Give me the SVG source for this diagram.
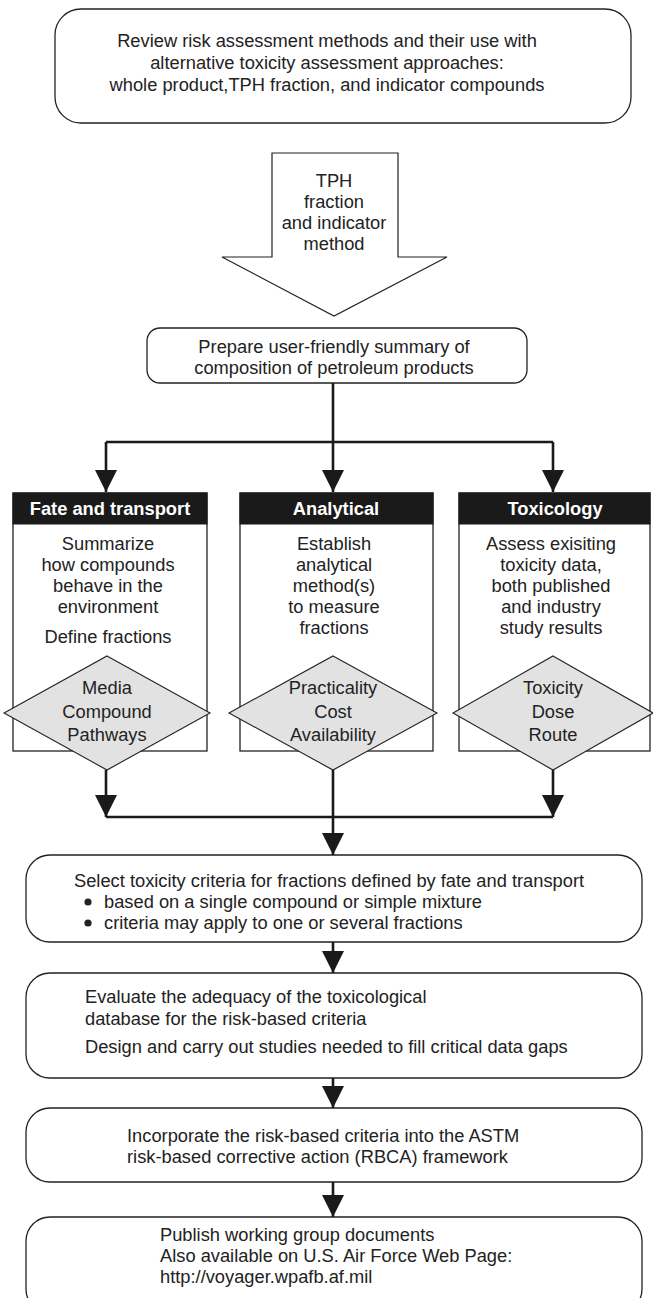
<svg xmlns="http://www.w3.org/2000/svg" width="653" height="1298" viewBox="0 0 653 1298">
<style>
.box{fill:#fff;stroke:#222;stroke-width:1.3}
.t{font-family:"Liberation Sans",Arial,sans-serif;font-size:18.3px;fill:#222}
.c{text-anchor:middle}
.h{font-family:"Liberation Sans",Arial,sans-serif;font-size:18.3px;font-weight:bold;fill:#fff;text-anchor:middle}
.hd{fill:#1a1a1a;stroke:#1a1a1a;stroke-width:1}
.dia{fill:#e2e2e2;stroke:#222;stroke-width:1.1}
.conn{fill:none;stroke:#1a1a1a;stroke-width:2.6}
</style>
<defs>
<marker id="ah" markerUnits="userSpaceOnUse" markerWidth="24" markerHeight="22" refX="22" refY="11" orient="auto" viewBox="0 0 24 22">
<path d="M0,0 L22,11 L0,22 z" fill="#1a1a1a"/>
</marker>
</defs>
<rect width="653" height="1298" fill="#fff"/>

<g id="review">
<rect class="box" x="55" y="9" width="576" height="114" rx="26" ry="26"/>
<text class="t c" x="327" y="47">Review risk assessment methods and their use with</text>
<text class="t c" x="327" y="69">alternative toxicity assessment approaches:</text>
<text class="t c" x="327" y="91">whole product,TPH fraction, and indicator compounds</text>
</g>

<g id="tph-arrow">
<path d="M272,153 H398 V257 H447 L334,316 L222,257 H272 Z" fill="#fff" stroke="#222" stroke-width="1.2"/>
<text class="t c" x="334" y="187">TPH</text>
<text class="t c" x="334" y="208">fraction</text>
<text class="t c" x="334" y="229">and indicator</text>
<text class="t c" x="334" y="250">method</text>
</g>

<g id="summary">
<rect class="box" x="147" y="328" width="380" height="55" rx="13" ry="13"/>
<text class="t c" x="334" y="353">Prepare user-friendly summary of</text>
<text class="t c" x="334" y="374">composition of petroleum products</text>
</g>

<g id="fate">
<rect class="box" x="13" y="493" width="194" height="258"/>
<rect class="hd" x="13" y="493" width="194" height="31"/>
<text class="h" x="110" y="515">Fate and transport</text>
<text class="t c" x="108" y="550">Summarize</text>
<text class="t c" x="108" y="571">how compounds</text>
<text class="t c" x="108" y="592">behave in the</text>
<text class="t c" x="108" y="613">environment</text>
<text class="t c" x="108" y="643">Define fractions</text>
<polygon class="dia" points="107,656 210,713 107,770 4,713"/>
<text class="t c" x="107" y="694">Media</text>
<text class="t c" x="107" y="718">Compound</text>
<text class="t c" x="107" y="741">Pathways</text>
</g>

<g id="analytical">
<rect class="box" x="240" y="493" width="193" height="258"/>
<rect class="hd" x="240" y="493" width="193" height="31"/>
<text class="h" x="336" y="515">Analytical</text>
<text class="t c" x="334" y="550">Establish</text>
<text class="t c" x="334" y="571">analytical</text>
<text class="t c" x="334" y="592">method(s)</text>
<text class="t c" x="334" y="613">to measure</text>
<text class="t c" x="334" y="634">fractions</text>
<polygon class="dia" points="333,656 437,713 333,770 229,713"/>
<text class="t c" x="333" y="694">Practicality</text>
<text class="t c" x="333" y="718">Cost</text>
<text class="t c" x="333" y="741">Availability</text>
</g>

<g id="toxicology">
<rect class="box" x="459" y="493" width="191" height="258"/>
<rect class="hd" x="459" y="493" width="191" height="31"/>
<text class="h" x="555" y="515">Toxicology</text>
<text class="t c" x="551" y="550">Assess exisiting</text>
<text class="t c" x="551" y="571">toxicity data,</text>
<text class="t c" x="551" y="592">both published</text>
<text class="t c" x="551" y="613">and industry</text>
<text class="t c" x="551" y="634">study results</text>
<polygon class="dia" points="553,656 653,713 553,770 453,713"/>
<text class="t c" x="553" y="694">Toxicity</text>
<text class="t c" x="553" y="718">Dose</text>
<text class="t c" x="553" y="741">Route</text>
</g>

<g id="select">
<rect class="box" x="26" y="855" width="616" height="87" rx="24" ry="24"/>
<text class="t" x="74" y="887">Select toxicity criteria for fractions defined by fate and transport</text>
<circle cx="88" cy="902" r="3.6" fill="#222"/>
<text class="t" x="104" y="908">based on a single compound or simple mixture</text>
<circle cx="88" cy="923" r="3.6" fill="#222"/>
<text class="t" x="104" y="929">criteria may apply to one or several fractions</text>
</g>

<g id="evaluate">
<rect class="box" x="26" y="973" width="616" height="105" rx="24" ry="24"/>
<text class="t" x="85" y="1003">Evaluate the adequacy of the toxicological</text>
<text class="t" x="85" y="1025">database for the risk-based criteria</text>
<text class="t" x="85" y="1053">Design and carry out studies needed to fill critical data gaps</text>
</g>

<g id="incorporate">
<rect class="box" x="26" y="1108" width="616" height="74" rx="24" ry="24"/>
<text class="t" x="127" y="1142">Incorporate the risk-based criteria into the ASTM</text>
<text class="t" x="127" y="1163">risk-based corrective action (RBCA) framework</text>
</g>

<g id="publish">
<rect class="box" x="26" y="1217" width="616" height="96" rx="24" ry="24"/>
<text class="t" x="160" y="1241">Publish working group documents</text>
<text class="t" x="160" y="1262">Also available on U.S. Air Force Web Page:</text>
<text class="t" x="160" y="1283">http://voyager.wpafb.af.mil</text>
</g>

<g id="connectors">
<path class="conn" d="M333,383 V492" marker-end="url(#ah)"/>
<path class="conn" d="M106,442 H553"/>
<path class="conn" d="M106,442 V492" marker-end="url(#ah)"/>
<path class="conn" d="M553,442 V492" marker-end="url(#ah)"/>
<path class="conn" d="M106,770 V817" marker-end="url(#ah)"/>
<path class="conn" d="M553,770 V817" marker-end="url(#ah)"/>
<path class="conn" d="M106,817 H553"/>
<path class="conn" d="M333,770 V855" marker-end="url(#ah)"/>
<path class="conn" d="M333,942 V973" marker-end="url(#ah)"/>
<path class="conn" d="M333,1078 V1108" marker-end="url(#ah)"/>
<path class="conn" d="M333,1182 V1217" marker-end="url(#ah)"/>
</g>
</svg>
